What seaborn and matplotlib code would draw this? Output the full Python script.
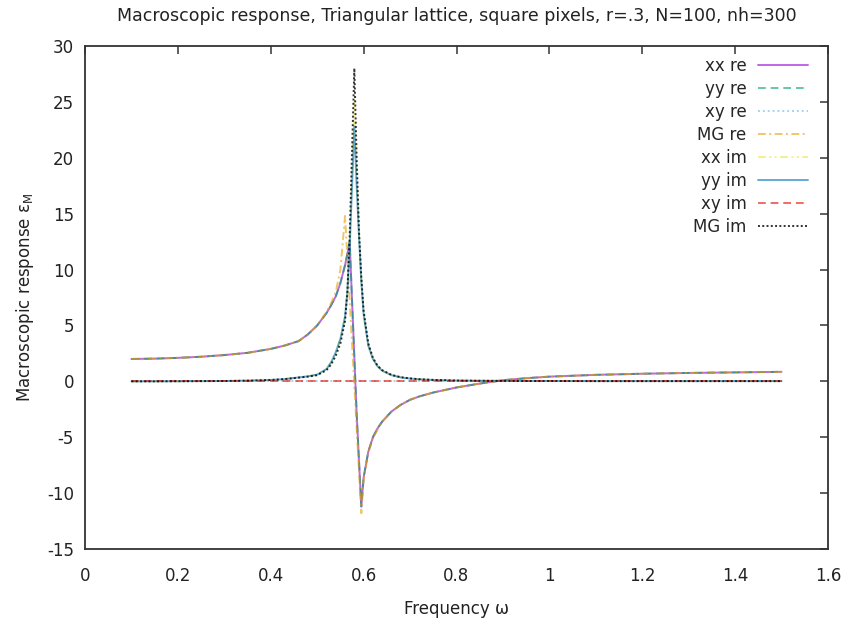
import matplotlib
matplotlib.use("Agg")
import matplotlib.pyplot as plt
import seaborn as sns
import pandas as pd

# ---- data ----
omega = [0.10, 0.15, 0.20, 0.25, 0.30, 0.35, 0.40, 0.43, 0.46, 0.48, 0.50, 0.52,
         0.53, 0.54, 0.55, 0.56, 0.565, 0.57, 0.575, 0.58, 0.585, 0.59, 0.595,
         0.60, 0.61, 0.62, 0.63, 0.64, 0.66, 0.68, 0.70, 0.72, 0.75, 0.80, 0.85,
         0.90, 0.95, 1.00, 1.10, 1.20, 1.30, 1.40, 1.50]

xx_re = [2.0, 2.03, 2.1, 2.2, 2.35, 2.55, 2.9, 3.2, 3.6, 4.2, 5.0, 6.1,
         6.8, 7.6, 8.8, 10.4, 11.4, 12.5, 7.3, 2.2, -2.9, -7.1, -11.2,
         -8.6, -6.3, -5.0, -4.2, -3.6, -2.7, -2.1, -1.65, -1.35, -1.0, -0.55, -0.2,
         0.1, 0.28, 0.42, 0.58, 0.68, 0.75, 0.8, 0.85]
yy_re = list(xx_re)
xy_re = [0.0] * len(omega)
mg_re = [2.0, 2.03, 2.1, 2.2, 2.35, 2.55, 2.9, 3.2, 3.6, 4.2, 5.0, 6.2,
         7.0, 8.0, 10.0, 14.8, 11.0, 7.2, 3.4, -0.4, -4.2, -8.0, -11.8,
         -8.8, -6.4, -5.1, -4.3, -3.6, -2.7, -2.1, -1.65, -1.35, -1.0, -0.55, -0.2,
         0.1, 0.28, 0.42, 0.58, 0.68, 0.75, 0.8, 0.85]

yy_im = [0.0, 0.0, 0.01, 0.02, 0.03, 0.06, 0.12, 0.2, 0.35, 0.45, 0.6, 1.1,
         1.7, 2.6, 3.8, 5.8, 8.0, 12.0, 17.4, 22.8, 17.5, 13.0, 9.0,
         6.0, 3.2, 2.0, 1.35, 0.95, 0.55, 0.35, 0.25, 0.18, 0.12, 0.07, 0.05,
         0.04, 0.03, 0.03, 0.02, 0.02, 0.02, 0.02, 0.02]
xx_im = [0.0, 0.0, 0.01, 0.02, 0.03, 0.06, 0.12, 0.2, 0.35, 0.45, 0.6, 1.1,
         1.7, 2.6, 3.8, 5.8, 8.0, 12.0, 18.5, 25.0, 18.5, 13.0, 9.0,
         6.0, 3.2, 2.0, 1.35, 0.95, 0.55, 0.35, 0.25, 0.18, 0.12, 0.07, 0.05,
         0.04, 0.03, 0.03, 0.02, 0.02, 0.02, 0.02, 0.02]
xy_im = [0.0] * len(omega)
mg_im = [0.0, 0.0, 0.01, 0.02, 0.03, 0.06, 0.12, 0.2, 0.33, 0.42, 0.55, 1.0,
         1.5, 2.3, 3.4, 5.4, 8.0, 13.0, 20.5, 28.0, 20.0, 13.5, 9.3,
         6.3, 3.4, 2.1, 1.4, 1.0, 0.58, 0.37, 0.26, 0.19, 0.13, 0.07, 0.05,
         0.04, 0.03, 0.03, 0.02, 0.02, 0.02, 0.02, 0.02]

labels = ["xx re", "yy re", "xy re", "MG re", "xx im", "yy im", "xy im", "MG im"]
series = [xx_re, yy_re, xy_re, mg_re, xx_im, yy_im, xy_im, mg_im]

xticks = [0, 0.2, 0.4, 0.6, 0.8, 1.0, 1.2, 1.4, 1.6]
xticklabels = ["0", "0.2", "0.4", "0.6", "0.8", "1", "1.2", "1.4", "1.6"]
yticks = [-15, -10, -5, 0, 5, 10, 15, 20, 25, 30]

# ---- styles ----
colors = ["#9400d3", "#009e73", "#56b4e9", "#e69f00", "#f0e442", "#0072b2", "#e51e10", "#000000"]
styles = ["-", (0, (4, 2.5)), (0, (1, 1.5)), (0, (4, 1.8, 1, 1.8)),
          (0, (4, 1.8, 1, 1.8, 1, 1.8)), "-", (0, (4, 2.5)), (0, (1, 1.2))]
alphas = [0.6, 0.6, 0.55, 0.6, 0.6, 0.6, 0.65, 0.8]

sns.set_theme(style="white")
plt.rcParams["font.family"] = ["DejaVu Sans"]
plt.rcParams["axes.unicode_minus"] = False

df = pd.DataFrame({"omega": omega})
for lab, s in zip(labels, series):
    df[lab] = s

fig = plt.figure(figsize=(8.52, 6.21), dpi=100)
ax = fig.add_axes([85 / 852, 1 - 549 / 621, (828 - 85) / 852, (549 - 46) / 621])

for lab, c, ls, a in zip(labels, colors, styles, alphas):
    sns.lineplot(data=df, x="omega", y=lab, ax=ax, color=c, linestyle=ls,
                 linewidth=1.4, alpha=a, label=lab, estimator=None)

ax.set_xlim(0, 1.6)
ax.set_ylim(-15, 30)
ax.set_xticks(xticks)
ax.set_xticklabels(xticklabels)
ax.set_yticks(yticks)
ax.tick_params(direction="in", length=6, width=1.2, color="#444444",
               top=True, right=True, labelsize=12, labelcolor="#222222", pad=8)
ax.tick_params(axis="x", pad=13)
for sp in ax.spines.values():
    sp.set_color("#333333")
    sp.set_linewidth(1.3)

ax.set_xlabel("Frequency ω", fontsize=12, color="#222222", labelpad=11)
ax.set_ylabel("Macroscopic response ε$_\\mathregular{M}$", fontsize=12, color="#222222", labelpad=8)
fig.suptitle("Macroscopic response, Triangular lattice, square pixels, r=.3, N=100, nh=300",
             x=0.536, y=0.988, fontsize=12.5, color="#222222")

leg = ax.legend(loc="upper right", bbox_to_anchor=(0.996, 1.012), frameon=False,
                markerfirst=False, fontsize=12, handlelength=3.0, labelspacing=0.3,
                handletextpad=0.7, borderaxespad=0.6)

fig.savefig("out.png", dpi=100)
